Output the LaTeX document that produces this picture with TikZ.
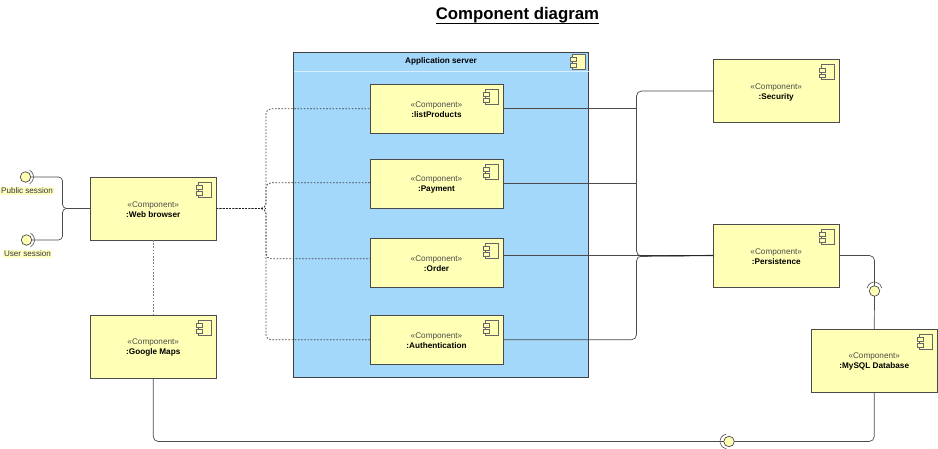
\documentclass[tikz,border=0pt]{standalone}
\usepackage{fontspec}
\setmainfont{Liberation Sans}
\usetikzlibrary{arrows.meta,positioning,calc}
\definecolor{CompYellow}{HTML}{FFFFB5}
\definecolor{ServerBlue}{HTML}{A3D8FB}
\definecolor{LineGrey}{HTML}{4A4A4A}
\newcommand{\compname}[1]{\rule{0pt}{8pt}{\color{black!70}«Component»}\\\textbf{#1}}

\begin{document}
\begin{tikzpicture}[
  x=1pt, y=1pt,
  font=\fontsize{8.2}{10}\selectfont,
  compbox/.style={rectangle, draw=LineGrey, line width=0.8pt, fill=CompYellow, align=center, inner sep=0pt, outer sep=0pt, minimum width=126.5pt, minimum height=63pt},
  innerbox/.style={compbox, minimum width=133pt, minimum height=49.5pt},
  serverbox/.style={rectangle, draw=black!75, line width=0.8pt, fill=ServerBlue, inner sep=0pt, outer sep=0pt, minimum width=295pt, minimum height=325pt},
  ball/.style={circle, draw=LineGrey, line width=0.7pt, fill=CompYellow, inner sep=0pt, outer sep=0pt, minimum size=10.5pt},
  sessionlabel/.style={fill=CompYellow!80, text=black!80, inner sep=1pt, font=\fontsize{8.1}{10}\selectfont},
  solidlink/.style={draw=LineGrey, line width=0.7pt, rounded corners=5pt},
  dashlink/.style={draw=black!75, line width=0.7pt, rounded corners=5pt, dash pattern=on 1.6pt off 1.6pt},
  socket/.style={draw=LineGrey, line width=0.6pt},
  compicon/.pic={
    \draw[draw=black!60, line width=0.8pt, fill=CompYellow] (-18,-5) rectangle (-5,-20);
    \draw[draw=black!60, line width=0.7pt, fill=CompYellow] (-20,-8.5) rectangle (-14,-12.5);
    \draw[draw=black!60, line width=0.7pt, fill=CompYellow] (-20,-14.5) rectangle (-14,-18);
  },
]
\useasboundingbox (0,0) rectangle (938,-449);
\node[font=\fontsize{16.8}{20}\selectfont\bfseries, anchor=base] (title) at (517.5,-19.5) {\underline{\smash{Component diagram}\rule[-2pt]{0pt}{0pt}}};

\node[serverbox, anchor=north west] (server) at (293.5,-52) {};
\node[font=\fontsize{8.2}{10}\selectfont\bfseries] (servertitle) at ([yshift=-9.5pt]server.north) {Application server};
\draw[draw=white!55!ServerBlue, line width=0.5pt] ([yshift=-19.5pt]server.north west) -- ([yshift=-19.5pt]server.north east);

\node[compbox, anchor=north west] (web) at (90,-177) {\compname{:Web browser}};
\node[compbox, below=75pt of web] (maps) {\compname{:Google Maps}};
\node[innerbox, anchor=north west] (list) at (370,-84) {\compname{:listProducts}};
\node[innerbox, below=25.5pt of list] (pay) {\compname{:Payment}};
\node[innerbox, below=29.5pt of pay] (order) {\compname{:Order}};
\node[innerbox, below=27.5pt of order] (auth) {\compname{:Authentication}};
\node[compbox, anchor=north west] (sec) at (713,-59.5) {\compname{:Security}};
\node[compbox, below=101.5pt of sec] (pers) {\compname{:Persistence}};
\node[compbox, anchor=north west] (db) at (811,-329) {\compname{:MySQL Database}};

\node[ball] (pub) at (25.5,-177) {};
\node[ball] (usr) at (26.5,-240) {};
\node[ball] (dbball) at (874.5,-291) {};
\node[ball] (mapsball) at (729,-441.5) {};
\node[sessionlabel] (publabel) at (27,-191) {Public session};
\node[sessionlabel] (usrlabel) at (27.5,-254) {User session};

\coordinate (joinL) at (62.5,-208.5);
\coordinate (joinW) at (266,-208.5);
\coordinate (joinR) at (636.5,-256);

\foreach \icon in {web,maps,list,pay,order,auth,sec,pers,db}
  \pic at (\icon.north east) {compicon};
\pic at ([shift={(2pt,3pt)}]server.north east) {compicon};

% sessions
\draw[solidlink, rounded corners=4pt] (pub.east) -| (joinL) -- (web.west);
\draw[solidlink, rounded corners=4pt] (usr.east) -| (joinL) -- (web.west);
\draw[socket] ([shift={(60:8pt)}]pub.center) arc[start angle=60, end angle=-60, radius=8pt];
\draw[socket] ([shift={(60:8pt)}]usr.center) arc[start angle=60, end angle=-60, radius=8pt];

% dashed side
\draw[dashlink] (web.east) -- (joinW) |- (list.west);
\draw[dashlink] (web.east) -- (joinW) |- ([yshift=1pt]pay.west);
\draw[dashlink] (web.east) -- (joinW) |- ([yshift=4pt]order.west);
\draw[dashlink] (web.east) -- (joinW) |- (auth.west);
\draw[dashlink, line width=1.2pt, draw=black!90] (web.east) -- (joinW);
\draw[dashlink, draw=black!50] (web.south) -- (maps.north);

% right side
\draw[solidlink] (sec.west) -| (joinR) -- (pers.west);
\draw[solidlink] (auth.east) -| (joinR) -- (pers.west);
\draw[solidlink] (list.east) -- (list.east -| joinR);
\draw[solidlink] (pay.east) -- (pay.east -| joinR);
\draw[solidlink] (order.east |- pers.west) -- (pers.west);
\draw[solidlink, line width=1.1pt, draw=black!85] ([xshift=4pt]joinR) -- (pers.west);

% database
\draw[solidlink] (pers.east) -| (dbball.north);
\draw[solidlink] (dbball.south) -- (db.north);
\draw[socket] ([shift={(170:7.5pt)}]dbball.center) ++(0,1.5) arc[start angle=170, end angle=10, radius=7.5pt];
\draw[solidlink] (maps.south) |- (mapsball.west);
\draw[solidlink] (mapsball.east) -| (db.south);
\draw[socket] ([shift={(100:7.5pt)}]mapsball.center) ++(-1.5,0) arc[start angle=100, end angle=260, radius=7.5pt];
\end{tikzpicture}
\end{document}
